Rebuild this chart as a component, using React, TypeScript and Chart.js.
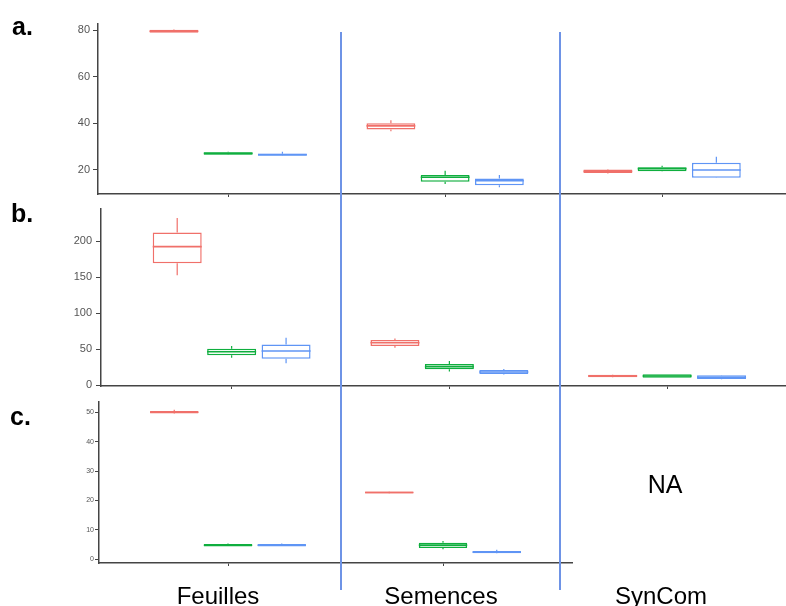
import React, { useEffect, useRef } from 'react';
import { Chart, registerables } from 'chart.js';
Chart.register(...registerables);

// ---------- data ----------
const categories = ['Feuilles', 'Semences', 'SynCom'];
const seriesNames = ['Groupe 1', 'Groupe 2', 'Groupe 3'];
// each entry: [low whisker, q1, median, q3, high whisker]
const aRed = [[78.8, 78.9, 79.5, 80.1, 80.3], [36.6, 37.4, 38.9, 40.0, 41.3], [18.5, 18.7, 19.4, 20.2, 20.4]];
const aGreen = [[26.4, 26.5, 27.1, 27.6, 27.8], [14.0, 14.9, 16.9, 17.9, 19.7], [19.3, 19.5, 20.6, 21.2, 21.8]];
const aBlue = [[26.0, 26.1, 26.6, 27.0, 27.8], [12.6, 13.4, 15.4, 16.4, 17.9], [16.6, 16.7, 20.0, 23.1, 25.7]];
const bRed = [[152.9, 169.5, 192.7, 212.5, 232.4], [52.2, 54.5, 59.2, 62.8, 65.0], [10.8, 11.1, 12.9, 14.8, 15.0]];
const bGreen = [[38.4, 41.6, 46.7, 50.8, 54.5], [19.0, 22.2, 25.9, 29.5, 33.7], [10.4, 10.6, 12.9, 15.2, 15.4]];
const bBlue = [[30.5, 37.0, 47.6, 56.8, 66.1], [15.0, 15.7, 18.4, 21.2, 22.5], [8.5, 8.7, 11.2, 13.9, 14.2]];
const cRed = [[49.4, 49.6, 50.0, 50.4, 50.9], [22.3, 22.35, 22.7, 23.05, 23.1]];
const cGreen = [[4.3, 4.35, 4.76, 5.15, 5.3], [3.4, 3.8, 4.8, 5.6, 6.2]];
const cBlue = [[4.3, 4.35, 4.76, 5.15, 5.3], [1.9, 2.0, 2.4, 2.8, 3.2]];
const aTicks = [20, 40, 60, 80];
const bTicks = [0, 50, 100, 150, 200];
const cTicks = [0, 10, 20, 30, 40, 50];
const aRange = [9.7, 82.6];
const bRange = [-1, 245];
const cRange = [-1.3, 53.5];
const panelLabels = ['a.', 'b.', 'c.'];
const naLabel = 'NA';

// ---------- styles ----------
const colors = ['#F0706A', '#0FAE3E', '#5F95F5'];
const axisColor = '#444444';
const tickColor = '#555555';
const FONT = '"Liberation Sans", Arial, sans-serif';

const boxPlugin = {
  id: 'boxExtras',
  afterDatasetsDraw(chart: any) {
    const ctx = chart.ctx;
    const y = chart.scales.y;
    chart.data.datasets.forEach((ds: any, di: number) => {
      const meta = chart.getDatasetMeta(di);
      meta.data.forEach((bar: any, i: number) => {
        const st = ds.stats[i];
        if (!st) return;
        const { x, width } = bar.getProps(['x', 'width'], true);
        ctx.save();
        ctx.strokeStyle = ds.borderColor;
        ctx.lineWidth = 1.2;
        ctx.beginPath();
        ctx.moveTo(x, y.getPixelForValue(st[3]));
        ctx.lineTo(x, y.getPixelForValue(st[4]));
        ctx.moveTo(x, y.getPixelForValue(st[1]));
        ctx.lineTo(x, y.getPixelForValue(st[0]));
        ctx.stroke();
        ctx.lineWidth = 1.6;
        ctx.beginPath();
        const my = y.getPixelForValue(st[2]);
        ctx.moveTo(x - width / 2, my);
        ctx.lineTo(x + width / 2, my);
        ctx.stroke();
        ctx.restore();
      });
    });
  },
};

type PanelCfg = {
  series: number[][][];
  ticks: number[];
  range: number[];
  nCat: number;
  xMax: number;
  left: number;
  padTop: number;
  padRight: number;
  xHeight: number;
  tickFont: number;
  tickLen: number;
  tickPad: number;
};

function makeConfig(p: PanelCfg): any {
  return {
    type: 'bar',
    data: {
      datasets: p.series.map((s, si) => ({
        label: seriesNames[si],
        data: s.map((st, ci) => ({ x: ci + 1, y: [st[1], st[3]] })),
        stats: s,
        backgroundColor: '#ffffff',
        borderColor: colors[si],
        borderWidth: 1.5,
        borderSkipped: false,
        categoryPercentage: 0.75,
        barPercentage: 0.9,
      })),
    },
    options: {
      animation: false,
      responsive: false,
      devicePixelRatio: 1,
      layout: { padding: { top: p.padTop, right: p.padRight, bottom: 0, left: 0 } },
      plugins: { legend: { display: false }, tooltip: { enabled: false } },
      scales: {
        x: {
          type: 'linear',
          min: 0.4,
          max: p.xMax,
          offset: false,
          grid: { display: true, drawOnChartArea: false, drawTicks: true, tickLength: 3, color: axisColor, lineWidth: 1, offset: false },
          border: { display: true, color: axisColor, width: 1.5 },
          ticks: { display: false },
          afterBuildTicks: (s: any) => {
            s.ticks = categories.slice(0, p.nCat).map((_, i) => ({ value: i + 1 }));
          },
          afterFit: (s: any) => {
            s.height = p.xHeight;
            s.paddingLeft = 0;
            s.paddingRight = 0;
          },
        },
        y: {
          type: 'linear',
          min: p.range[0],
          max: p.range[1],
          beginAtZero: false,
          grid: { display: true, drawOnChartArea: false, drawTicks: true, tickLength: p.tickLen, color: axisColor, lineWidth: 1 },
          border: { display: true, color: axisColor, width: 1.5 },
          ticks: { color: tickColor, font: { family: FONT, size: p.tickFont }, padding: p.tickPad },
          afterBuildTicks: (s: any) => {
            s.ticks = p.ticks.map((v) => ({ value: v }));
          },
          afterFit: (s: any) => {
            s.width = p.left;
            s.paddingTop = 0;
            s.paddingBottom = 0;
          },
        },
      },
    },
    plugins: [boxPlugin],
  };
}

const panels: { cfg: PanelCfg; top: number; height: number }[] = [
  {
    top: 0,
    height: 200,
    cfg: { series: [aRed, aGreen, aBlue], ticks: aTicks, range: aRange, nCat: 3, xMax: 3.571, left: 98, padTop: 24, padRight: 0, xHeight: 6, tickFont: 11, tickLen: 5, tickPad: 3 },
  },
  {
    top: 200,
    height: 192,
    cfg: { series: [bRed, bGreen, bBlue], ticks: bTicks, range: bRange, nCat: 3, xMax: 3.546, left: 101, padTop: 9, padRight: 0, xHeight: 6, tickFont: 11, tickLen: 5, tickPad: 4 },
  },
  {
    top: 392,
    height: 214,
    cfg: { series: [cRed, cGreen, cBlue], ticks: cTicks, range: cRange, nCat: 2, xMax: 2.6, left: 99, padTop: 10, padRight: 214, xHeight: 43, tickFont: 7, tickLen: 4, tickPad: 1 },
  },
];

function Panel({ cfg, top, height }: { cfg: PanelCfg; top: number; height: number }) {
  const ref = useRef<HTMLCanvasElement>(null);
  useEffect(() => {
    const chart = new Chart(ref.current as HTMLCanvasElement, makeConfig(cfg));
    return () => chart.destroy();
  }, []);
  return (
    <canvas
      ref={ref}
      width={786}
      height={height}
      style={{ position: 'absolute', left: 0, top, width: 786, height }}
    />
  );
}

const textBase: React.CSSProperties = { position: 'absolute', fontFamily: FONT, lineHeight: 1, color: '#000', whiteSpace: 'nowrap' };

export default function App() {
  const panelLabelPos = [
    { left: 12, top: 14 },
    { left: 11, top: 201 },
    { left: 10, top: 404 },
  ];
  const catCenters = [218, 441, 661];
  return (
    <div style={{ position: 'absolute', left: 0, top: 0, width: 786, height: 606, background: '#fff', overflow: 'hidden' }}>
      {panels.map((p, i) => (
        <Panel key={i} cfg={p.cfg} top={p.top} height={p.height} />
      ))}
      {panelLabels.map((t, i) => (
        <div key={t} style={{ ...textBase, left: panelLabelPos[i].left, top: panelLabelPos[i].top, fontSize: 25, fontWeight: 'bold' }}>
          {t}
        </div>
      ))}
      {categories.map((c, i) => (
        <div key={c} style={{ ...textBase, left: catCenters[i] - 100, width: 200, textAlign: 'center', top: 584, fontSize: 24 }}>
          {c}
        </div>
      ))}
      <div style={{ ...textBase, left: 565, width: 200, textAlign: 'center', top: 472, fontSize: 25 }}>{naLabel}</div>
      <div style={{ position: 'absolute', left: 340, top: 32, width: 2, height: 558, background: '#6E93E6' }} />
      <div style={{ position: 'absolute', left: 559, top: 32, width: 2, height: 558, background: '#6E93E6' }} />
    </div>
  );
}
